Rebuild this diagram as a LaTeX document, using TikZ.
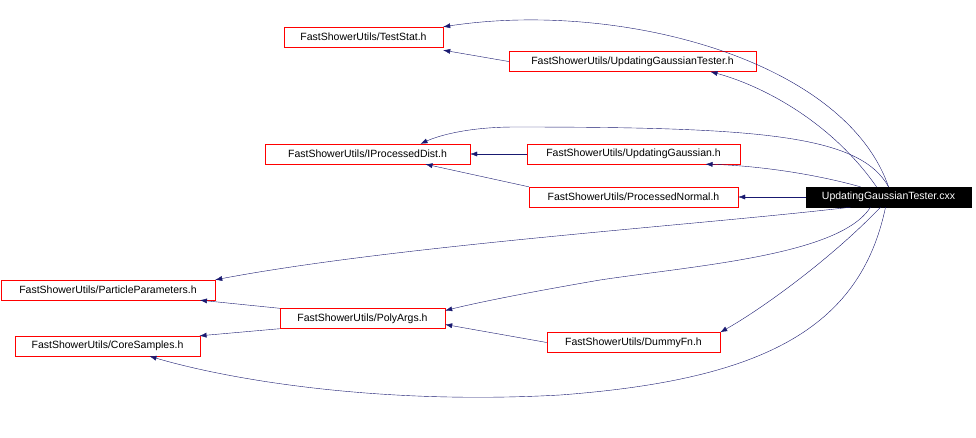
\documentclass[tikz,border=0pt]{standalone}
\usepackage{fontspec}
\setmainfont{Liberation Sans}
\usetikzlibrary{arrows.meta,positioning}
\definecolor{midnightblue}{RGB}{25,25,112}
\tikzset{
  file/.style={draw=red, fill=white, inner sep=0pt, minimum height=20pt,
    font=\fontsize{10.5}{12}\selectfont},
  mainfile/.style={file, draw=black, fill=black, text=white},
  dep/.style={draw=midnightblue, -{Latex[length=7pt,width=5pt]}},
}
\begin{document}
\begin{tikzpicture}[x=1pt,y=-1pt]
  \useasboundingbox (0,0) rectangle (976,437);
  % the files
  \node[file, minimum width=159pt] (TestStat) at (363.5,37) {FastShowerUtils/TestStat.h};
  \node[file, minimum width=247pt] (UGTesterH) at (632.5,61.5) {FastShowerUtils/UpdatingGaussianTester.h};
  \node[file, minimum width=205pt] (IProcDist) at (367.5,154) {FastShowerUtils/IProcessedDist.h};
  \node[file, minimum width=213pt] (UGauss) at (633.5,154) {FastShowerUtils/UpdatingGaussian.h};
  \node[file, minimum width=209pt] (ProcNormal) at (633.5,197) {FastShowerUtils/ProcessedNormal.h};
  \node[mainfile, minimum width=165pt] (cxx) at (888.5,197) {UpdatingGaussianTester.cxx};
  \node[file, minimum width=214pt] (PartParams) at (108,290) {FastShowerUtils/ParticleParameters.h};
  \node[file, minimum width=165pt] (PolyArgs) at (362.5,318.5) {FastShowerUtils/PolyArgs.h};
  \node[file, minimum width=185pt] (CoreSamples) at (107.5,346) {FastShowerUtils/CoreSamples.h};
  \node[file, minimum width=173pt] (DummyFn) at (633.5,342.5) {FastShowerUtils/DummyFn.h};
  % the includes
  \draw[dep] (cxx.north) .. controls (845,60) and (620,0) .. (TestStat.north east);
  \draw[dep] ([xshift=-12pt]cxx.north) .. controls (830,120) and (760,85) .. ([xshift=78pt]UGTesterH.south);
  \draw[dep] (UGTesterH.west) -- ([yshift=-3pt]TestStat.south east);
  \draw[dep] (cxx.north) .. controls (860,135) and (760,127) .. (515,127)
    .. controls (470,127) and (440,135) .. ([xshift=53pt]IProcDist.north);
  \draw[dep] ([xshift=-28pt]cxx.north) .. controls (800,170) and (740,165) .. ([xshift=72pt]UGauss.south);
  \draw[dep] (UGauss) -- (IProcDist);
  \draw[dep] (ProcNormal.north west) -- ([xshift=58pt]IProcDist.south);
  \draw[dep] (cxx) -- (ProcNormal);
  \draw[dep] ([xshift=-38pt]cxx.south) .. controls (700,225) and (400,245) .. (PartParams.north east);
  \draw[dep] ([xshift=-18pt]cxx.south) .. controls (840,255) and (700,265) .. (600,280)
    .. controls (530,292) and (480,302) .. ([yshift=8pt]PolyArgs.east);
  \draw[dep] ([xshift=-8pt]cxx.south) .. controls (830,260) and (760,310) .. (DummyFn.north east);
  \draw[dep] ([xshift=-3pt]cxx.south) .. controls (860,330) and (760,380) .. (560,395)
    .. controls (380,405) and (230,380) .. ([xshift=42pt]CoreSamples.south);
  \draw[dep] (PolyArgs.north west) -- ([xshift=92pt]PartParams.south);
  \draw[dep] (PolyArgs.south west) -- ([xshift=92pt]CoreSamples.north);
  \draw[dep] (DummyFn.west) -- ([yshift=-6pt]PolyArgs.east);
\end{tikzpicture}
\end{document}
